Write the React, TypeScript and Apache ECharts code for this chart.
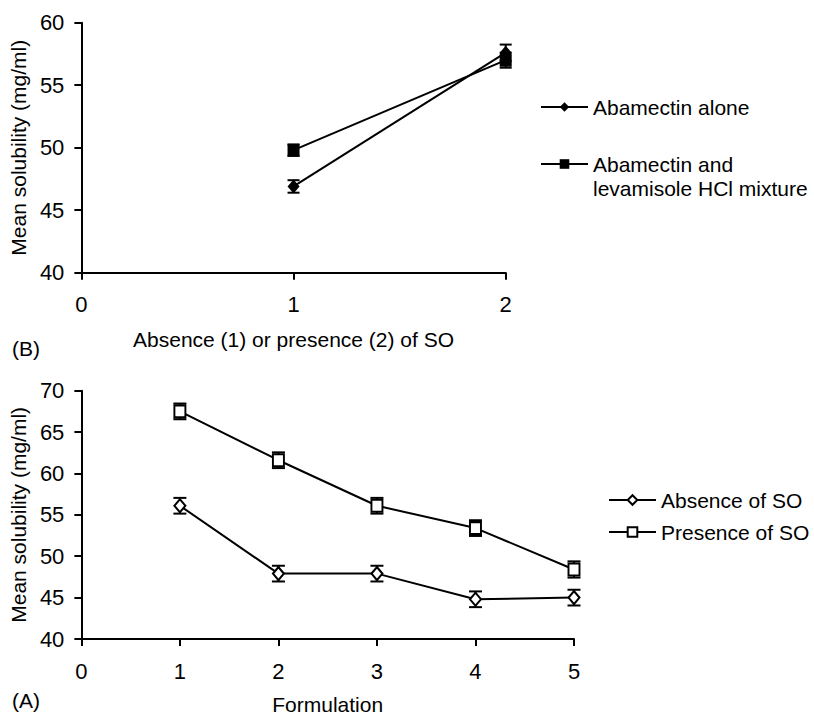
import React, { useEffect, useRef } from "react";
import * as echarts from "echarts";

// ---- Panel B data ----
const topX = [1, 2];
const aloneMean = [46.9, 57.6];
const aloneErr = [0.5, 0.65];
const mixMean = [49.8, 57.0];
const mixErr = [0.45, 0.6];
const topYTicks = { min: 40, max: 60, interval: 5 };
const topXTicks = { min: 0, max: 2, interval: 1 };

// ---- Panel A data ----
const formX = [1, 2, 3, 4, 5];
const absenceMean = [56.1, 47.9, 47.9, 44.8, 45.0];
const absenceErr = [0.95, 0.95, 0.95, 0.95, 0.95];
const presenceMean = [67.5, 61.6, 56.1, 53.4, 48.4];
const presenceErr = [0.95, 0.95, 0.95, 0.95, 0.98];
const botYTicks = { min: 40, max: 70, interval: 5 };
const botXTicks = { min: 0, max: 5, interval: 1 };

const NAME_ALONE = "Abamectin alone";
const NAME_MIX = "Abamectin and levamisole HCl mixture";
const NAME_ABS = "Absence of SO";
const NAME_PRES = "Presence of SO";

const FONT = "Liberation Sans, Arial, sans-serif";
const FS = 21;
const TICK_FS = 22;

function pairs(xs: number[], ys: number[]) {
  return xs.map((x, i) => [x, ys[i]]);
}
function errData(xs: number[], ys: number[], es: number[]) {
  return xs.map((x, i) => [x, ys[i] - es[i], ys[i] + es[i]]);
}

function errorBarSeries(data: number[][], axisIdx: number, capHalf: number) {
  return {
    type: "custom",
    xAxisIndex: axisIdx,
    yAxisIndex: axisIdx,
    z: 1,
    silent: true,
    data,
    renderItem: (params: any, api: any) => {
      const x = api.value(0);
      const lo = api.coord([x, api.value(1)]);
      const hi = api.coord([x, api.value(2)]);
      const st = { stroke: "#000", lineWidth: 2 };
      return {
        type: "group",
        children: [
          { type: "line", shape: { x1: lo[0], y1: lo[1], x2: hi[0], y2: hi[1] }, style: st },
          { type: "line", shape: { x1: lo[0] - capHalf, y1: lo[1], x2: lo[0] + capHalf, y2: lo[1] }, style: st },
          { type: "line", shape: { x1: hi[0] - capHalf, y1: hi[1], x2: hi[0] + capHalf, y2: hi[1] }, style: st },
        ],
      };
    },
  };
}

function axisCommon() {
  return {
    axisLine: { show: true, onZero: false, lineStyle: { color: "#000", width: 2 } },
    axisTick: { show: true, length: 7, lineStyle: { color: "#000", width: 2 } },
    splitLine: { show: false },
    axisLabel: { color: "#000", fontFamily: FONT, fontSize: TICK_FS },
    nameTextStyle: { color: "#000", fontFamily: FONT, fontSize: FS },
  };
}

export default function App() {
  const ref = useRef<HTMLDivElement>(null);
  useEffect(() => {
    if (!ref.current) return;
    const chart = echarts.init(ref.current, undefined, { renderer: "svg" });
    const c = axisCommon();
    const option: any = {
      animation: false,
      backgroundColor: "#fff",
      textStyle: { fontFamily: FONT },
      grid: [
        { left: 81, top: 22.7, width: 424.7, height: 250 },
        { left: 81, top: 390.7, width: 493, height: 250.3 },
      ],
      xAxis: [
        {
          type: "value",
          gridIndex: 0,
          ...topXTicks,
          ...c,
          axisLabel: { ...c.axisLabel, margin: 21 },
          name: "Absence (1) or presence (2) of SO",
          nameLocation: "middle",
          nameGap: 56,
        },
        {
          type: "value",
          gridIndex: 1,
          ...botXTicks,
          ...c,
          axisLabel: { ...c.axisLabel, margin: 21 },
          name: "Formulation",
          nameLocation: "middle",
          nameGap: 55,
        },
      ],
      yAxis: [
        {
          type: "value",
          gridIndex: 0,
          ...topYTicks,
          ...c,
          axisLabel: { ...c.axisLabel, margin: 17 },
          name: "Mean solubility (mg/ml)",
          nameLocation: "middle",
          nameGap: 50,
        },
        {
          type: "value",
          gridIndex: 1,
          ...botYTicks,
          ...c,
          axisLabel: { ...c.axisLabel, margin: 17 },
          name: "Mean solubility (mg/ml)",
          nameLocation: "middle",
          nameGap: 50,
        },
      ],
      legend: [
        {
          left: 540,
          top: 95,
          orient: "vertical",
          padding: 0,
          itemGap: 9,
          itemWidth: 47,
          itemHeight: 12,
          selectedMode: false,
          textStyle: { color: "#000", fontFamily: FONT, fontSize: FS, lineHeight: 24 },
          formatter: (n: string) => (n === NAME_MIX ? " \nAbamectin and\nlevamisole HCl mixture" : n),
          data: [{ name: NAME_ALONE }, { name: NAME_MIX }],
        },
        {
          left: 608,
          top: 488,
          orient: "vertical",
          padding: 0,
          itemGap: 8,
          itemWidth: 47,
          itemHeight: 12,
          selectedMode: false,
          textStyle: { color: "#000", fontFamily: FONT, fontSize: FS, lineHeight: 24 },
          data: [{ name: NAME_ABS }, { name: NAME_PRES }],
        },
      ],
      graphic: [
        { type: "text", left: 12, top: 338, style: { text: "(B)", font: `${FS}px ${FONT}`, fill: "#000" } },
        { type: "text", left: 12, top: 690, style: { text: "(A)", font: `${FS}px ${FONT}`, fill: "#000" } },
      ],
      series: [
        errorBarSeries(errData(topX, aloneMean, aloneErr), 0, 6),
        errorBarSeries(errData(topX, mixMean, mixErr), 0, 6),
        errorBarSeries(errData(formX, absenceMean, absenceErr), 1, 6.5),
        errorBarSeries(errData(formX, presenceMean, presenceErr), 1, 6.5),
        {
          name: NAME_ALONE,
          type: "line",
          xAxisIndex: 0,
          yAxisIndex: 0,
          z: 3,
          data: pairs(topX, aloneMean),
          symbol: "diamond",
          symbolSize: [12, 14],
          lineStyle: { color: "#000", width: 2 },
          itemStyle: { color: "#000" },
        },
        {
          name: NAME_MIX,
          type: "line",
          xAxisIndex: 0,
          yAxisIndex: 0,
          z: 3,
          data: pairs(topX, mixMean),
          symbol: "rect",
          symbolSize: [12, 13],
          lineStyle: { color: "#000", width: 2 },
          itemStyle: { color: "#000" },
        },
        {
          name: NAME_ABS,
          type: "line",
          xAxisIndex: 1,
          yAxisIndex: 1,
          z: 3,
          data: pairs(formX, absenceMean),
          symbol: "emptyDiamond",
          symbolSize: [11, 13],
          lineStyle: { color: "#000", width: 2 },
          itemStyle: { color: "#000", borderColor: "#000", borderWidth: 2 },
        },
        {
          name: NAME_PRES,
          type: "line",
          xAxisIndex: 1,
          yAxisIndex: 1,
          z: 3,
          data: pairs(formX, presenceMean),
          symbol: "emptyRect",
          symbolSize: [11, 12],
          lineStyle: { color: "#000", width: 2 },
          itemStyle: { color: "#000", borderColor: "#000", borderWidth: 2 },
        },
      ],
    };
    chart.setOption(option);
    return () => chart.dispose();
  }, []);
  return (
    <div
      ref={ref}
      style={{ position: "absolute", left: 0, top: 0, width: 814, height: 716, background: "#fff" }}
    />
  );
}
